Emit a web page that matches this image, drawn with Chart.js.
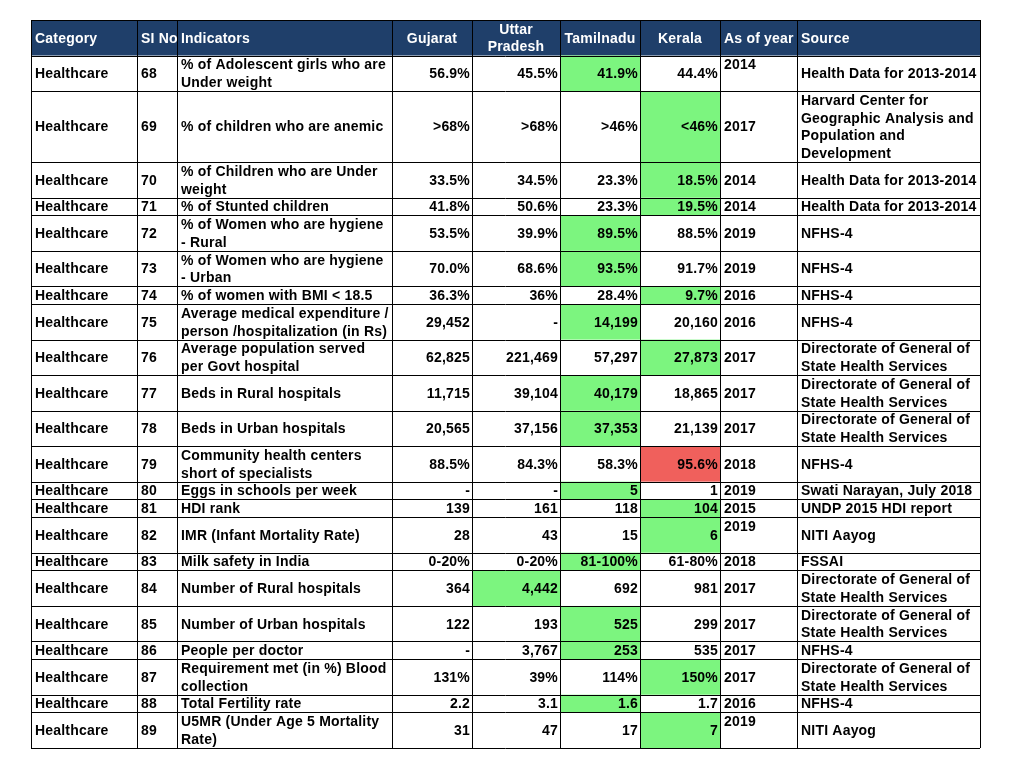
<!DOCTYPE html>
<html>
<head>
<meta charset="utf-8">
<style>
  html, body { margin: 0; padding: 0; background: #ffffff; }
  #table { display: block; }
</style>
<script src="https://cdn.jsdelivr.net/npm/chart.js@4/dist/chart.umd.min.js"></script>
</head>
<body>
<canvas id="table" width="1012" height="761"></canvas>
<script>
// Table data, one array per column
const headers = ["Category", "SI No", "Indicators", "Gujarat", "Uttar\nPradesh", "Tamilnadu", "Kerala", "As of year", "Source"];

const categories = Array(22).fill("Healthcare");
const slNo = ["68", "69", "70", "71", "72", "73", "74", "75", "76", "77", "78", "79", "80", "81", "82", "83", "84", "85", "86", "87", "88", "89"];
const indicators = [
    "% of Adolescent girls who are\nUnder weight",
    "% of children who are anemic",
    "% of Children who are Under\nweight",
    "% of Stunted children",
    "% of Women who are hygiene\n- Rural",
    "% of Women who are hygiene\n- Urban",
    "% of women with BMI < 18.5",
    "Average medical expenditure /\nperson /hospitalization (in Rs)",
    "Average population served\nper Govt hospital",
    "Beds in Rural hospitals",
    "Beds in Urban hospitals",
    "Community health centers\nshort of specialists",
    "Eggs in schools per week",
    "HDI rank",
    "IMR (Infant Mortality Rate)",
    "Milk safety in India",
    "Number of Rural hospitals",
    "Number of Urban hospitals",
    "People per doctor",
    "Requirement met (in %) Blood\ncollection",
    "Total Fertility rate",
    "U5MR (Under Age 5 Mortality\nRate)"
];
const gujarat = ["56.9%", ">68%", "33.5%", "41.8%", "53.5%", "70.0%", "36.3%", "29,452", "62,825", "11,715", "20,565", "88.5%", "-", "139", "28", "0-20%", "364", "122", "-", "131%", "2.2", "31"];
const uttarPradesh = ["45.5%", ">68%", "34.5%", "50.6%", "39.9%", "68.6%", "36%", "-", "221,469", "39,104", "37,156", "84.3%", "-", "161", "43", "0-20%", "4,442", "193", "3,767", "39%", "3.1", "47"];
const tamilnadu = ["41.9%", ">46%", "23.3%", "23.3%", "89.5%", "93.5%", "28.4%", "14,199", "57,297", "40,179", "37,353", "58.3%", "5", "118", "15", "81-100%", "692", "525", "253", "114%", "1.6", "17"];
const kerala = ["44.4%", "<46%", "18.5%", "19.5%", "88.5%", "91.7%", "9.7%", "20,160", "27,873", "18,865", "21,139", "95.6%", "1", "104", "6", "61-80%", "981", "299", "535", "150%", "1.7", "7"];
const years = ["2014\n", "2017", "2014", "2014", "2019", "2019", "2016", "2016", "2017", "2017", "2017", "2018", "2019", "2015", "2019\n", "2018", "2017", "2017", "2017", "2017", "2016", "2019\n"];
const dirSource = "Directorate of General of\nState Health Services";
const sources = [
    "Health Data for 2013-2014",
    "Harvard Center for\nGeographic Analysis and\nPopulation and\nDevelopment",
    "Health Data for 2013-2014",
    "Health Data for 2013-2014",
    "NFHS-4", "NFHS-4", "NFHS-4", "NFHS-4",
    dirSource, dirSource, dirSource,
    "NFHS-4",
    "Swati Narayan, July 2018",
    "UNDP 2015 HDI report",
    "NITI Aayog",
    "FSSAI",
    dirSource, dirSource,
    "NFHS-4",
    dirSource,
    "NFHS-4",
    "NITI Aayog"
];
// highlighted state per row and whether it is the best or the worst value
const highlightState = ["Tamilnadu", "Kerala", "Kerala", "Kerala", "Tamilnadu", "Tamilnadu", "Kerala", "Tamilnadu", "Kerala", "Tamilnadu", "Tamilnadu", "Kerala", "Tamilnadu", "Kerala", "Kerala", "Tamilnadu", "Uttar Pradesh", "Tamilnadu", "Tamilnadu", "Kerala", "Tamilnadu", "Kerala"];
const highlightKind = ["best", "best", "best", "best", "best", "best", "best", "best", "best", "best", "best", "worst", "best", "best", "best", "best", "best", "best", "best", "best", "best", "best"];

// layout and style
const stateNames = ["Gujarat", "Uttar Pradesh", "Tamilnadu", "Kerala"];
const columns = [categories, slNo, indicators, gujarat, uttarPradesh, tamilnadu, kerala, years, sources];
const colWidths = [106, 40, 215, 80, 88, 80, 80, 77, 183];
const colAlign = ["left", "left", "left", "right", "right", "right", "right", "left", "left"];
const headAlign = ["left", "left", "left", "center", "center", "center", "center", "left", "left"];
const colors = { head: "#1f3f6a", headText: "#ffffff", text: "#000000", best: "#7cf57f", worst: "#f0605c", grid: "#000000" };
const font = "bold 14px 'Liberation Sans', Arial, sans-serif";

const lineCount = (s) => s.split("\n").length;
const rows = [headers].concat(slNo.map((_, r) => columns.map(c => c[r])));
const rowLines = rows.map(cells => Math.max(...cells.map(lineCount)));
const rowEdges = [0];
rowLines.forEach(n => rowEdges.push(rowEdges[rowEdges.length - 1] + n));
const colEdges = [0];
colWidths.forEach(w => colEdges.push(colEdges[colEdges.length - 1] + w));

function cellFill(r, c) {
    if (r === 0) return colors.head;
    const state = stateNames.indexOf(highlightState[r - 1]);
    if (state >= 0 && c === state + 3) return colors[highlightKind[r - 1]];
    return null;
}

const tablePlugin = {
    id: "tableCells",
    afterDatasetsDraw(chart) {
        const ctx = chart.ctx;
        const xs = chart.scales.x, ys = chart.scales.y;
        const px = v => xs.getPixelForValue(v);
        const py = v => ys.getPixelForValue(v);
        const lineH = py(1) - py(0);
        ctx.save();
        ctx.font = font;
        ctx.letterSpacing = "0.2px";
        ctx.textBaseline = "middle";
        rows.forEach((cells, r) => {
            const top = py(rowEdges[r]), bottom = py(rowEdges[r + 1]);
            cells.forEach((text, c) => {
                const left = px(colEdges[c]), right = px(colEdges[c + 1]);
                const fill = cellFill(r, c);
                if (fill) {
                    ctx.fillStyle = fill;
                    ctx.fillRect(left, top, right - left, bottom - top);
                }
                const lines = text.split("\n");
                const align = r === 0 ? headAlign[c] : colAlign[c];
                ctx.textAlign = align;
                ctx.fillStyle = r === 0 ? colors.headText : colors.text;
                const tx = align === "left" ? left + 4 : align === "right" ? right - 2 : (left + right) / 2;
                const startY = (top + bottom) / 2 - (lines.length - 1) * lineH / 2;
                lines.forEach((ln, i) => ctx.fillText(ln, tx, startY + i * lineH + 1));
            });
        });
        // grid lines
        ctx.strokeStyle = colors.grid;
        ctx.lineWidth = 1;
        ctx.beginPath();
        rowEdges.forEach(v => {
            const y = Math.round(py(v)) + 0.5;
            ctx.moveTo(px(0), y);
            ctx.lineTo(px(colEdges[colEdges.length - 1]), y);
        });
        colEdges.forEach(v => {
            const x = Math.round(px(v)) + 0.5;
            ctx.moveTo(x, py(0));
            ctx.lineTo(x, py(rowEdges[rowEdges.length - 1]));
        });
        ctx.stroke();
        ctx.restore();
    }
};

new Chart(document.getElementById("table"), {
    type: "scatter",
    data: { datasets: [] },
    options: {
        responsive: false,
        animation: false,
        layout: { padding: { left: 31, top: 20, right: 32, bottom: 13 } },
        plugins: { legend: { display: false }, tooltip: { enabled: false } },
        scales: {
            x: { type: "linear", display: false, min: 0, max: colEdges[colEdges.length - 1] },
            y: { type: "linear", display: false, reverse: true, min: 0, max: rowEdges[rowEdges.length - 1] }
        }
    },
    plugins: [tablePlugin]
});
</script>
</body>
</html>
